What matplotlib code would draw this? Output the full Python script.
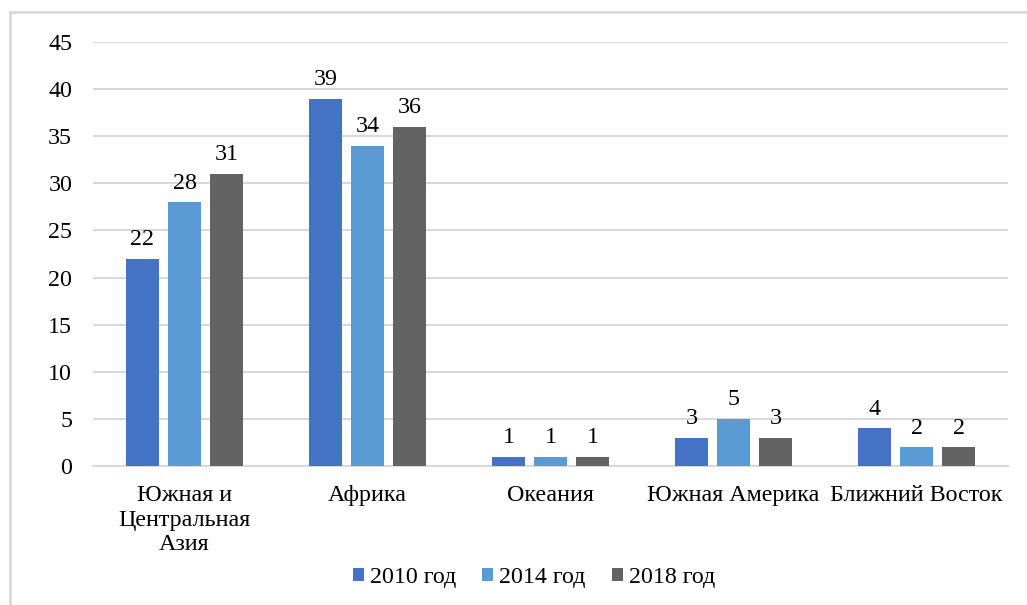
import matplotlib
matplotlib.use("Agg")
import matplotlib.pyplot as plt
from matplotlib.patches import Rectangle
import numpy as np

categories = ["Южная и\nЦентральная\nАзия", "Африка", "Океания", "Южная Америка", "Ближний Восток"]
series_names = ["2010 год", "2014 год", "2018 год"]
v2010 = [22, 39, 1, 3, 4]
v2014 = [28, 34, 1, 5, 2]
v2018 = [31, 36, 1, 3, 2]
yticks = [0, 5, 10, 15, 20, 25, 30, 35, 40, 45]

colors = ["#4472C4", "#5B9BD5", "#636363"]
FS = 17.3

plt.rcParams['font.family'] = ['Liberation Serif', 'DejaVu Serif']
fig = plt.figure(figsize=(10.27, 6.05), dpi=100)
ax = fig.add_axes([93/1027, 1-466/605, (1008-93)/1027, 424/605])

x = np.arange(len(categories))
bw = 0.18
step = 0.23
for i, (vals, name) in enumerate(zip([v2010, v2014, v2018], series_names)):
    bars = ax.bar(x + (i-1)*step, vals, bw, color=colors[i], label=name, zorder=3)
    for b, v in zip(bars, vals):
        ax.text(b.get_x()+b.get_width()/2, v + 0.9, str(v), ha='center', va='bottom',
                fontsize=FS, color='#000000')

ax.set_xlim(-0.5, len(categories)-0.5)
ax.set_ylim(0, 45)
ax.set_yticks(yticks)
ax.set_xticks(x)
ax.set_xticklabels(categories, fontsize=FS, linespacing=1.2)
ax.tick_params(axis='y', labelsize=FS, length=0, pad=15)
ax.tick_params(axis='x', length=0, pad=14)
ax.grid(axis='y', color='#d9d9d9', linewidth=1.5, zorder=0)
for s in ['top', 'right', 'left']:
    ax.spines[s].set_visible(False)
ax.spines['bottom'].set_color('#d9d9d9')
ax.spines['bottom'].set_linewidth(1.5)

leg = fig.legend(loc='center', bbox_to_anchor=(534/1027, 1-578/605), ncol=3, frameon=False,
                 fontsize=FS, handlelength=0.45, handleheight=0.45, handletextpad=0.25,
                 columnspacing=1.1)

fig.patches.append(Rectangle((10/1027, -0.1), 1.2, 1-12/605+0.1, transform=fig.transFigure,
                             fill=False, edgecolor='#d9d9d9', linewidth=2))

fig.savefig("out.png", dpi=100)
